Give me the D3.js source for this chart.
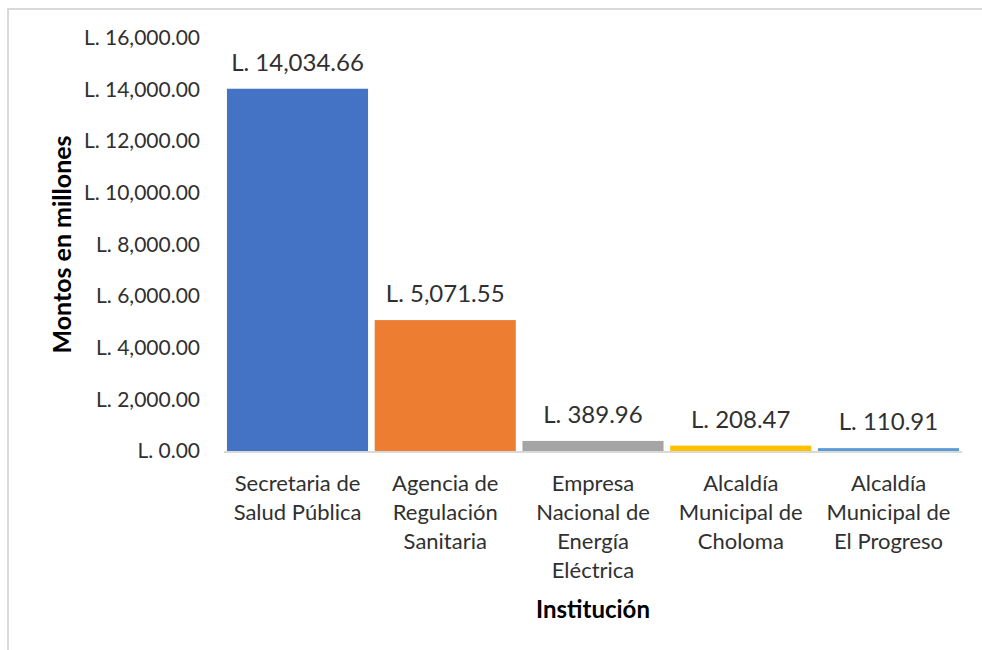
<!DOCTYPE html>
<html>
<head>
<meta charset="utf-8">
<script src="https://cdn.jsdelivr.net/npm/d3@7"></script>
<style>
  body { margin: 0; background: #fff; }
  svg text { font-family: Lato, "Open Sans", sans-serif; fill: #303030; }
</style>
</head>
<body>
<div id="chart"></div>
<script>
// data
var instituciones = [
    ["Secretaria de", "Salud Pública"],
    ["Agencia de", "Regulación", "Sanitaria"],
    ["Empresa", "Nacional de", "Energía", "Eléctrica"],
    ["Alcaldía", "Municipal de", "Choloma"],
    ["Alcaldía", "Municipal de", "El Progreso"]
];
var montos = [14034.66, 5071.55, 389.96, 208.47, 110.91];
var colores = ["#4472C4", "#ED7D31", "#A5A5A5", "#FFC000", "#5B9BD5"];
var yTicks = [0, 2000, 4000, 6000, 8000, 10000, 12000, 14000, 16000];

var svgwidth = 982, svgheight = 650;
var margin = {top: 38, right: 20, bottom: 199, left: 224};
var width = 962 - margin.left;
var height = 451 - margin.top;

var svg = d3.select("#chart")
    .append("svg")
    .attr("width", svgwidth)
    .attr("height", svgheight);

// chart frame (only top and left edges are inside the window)
svg.append("rect")
    .attr("x", 8).attr("y", 9)
    .attr("width", 1000).attr("height", 700)
    .attr("fill", "none")
    .attr("stroke", "#d9d9d9")
    .attr("stroke-width", 2);

var g = svg.append("g")
    .attr("transform", "translate(" + margin.left + "," + margin.top + ")");

var x = d3.scaleBand().domain(d3.range(montos.length)).range([0, width]).paddingInner(0.045).paddingOuter(0.02);
var y = d3.scaleLinear().domain([0, 16000]).range([height, 0]);

var fmt = function(v) { return "L. " + d3.format(",.2f")(v); };

// y axis labels, no line
var yAxisg = g.append("g")
    .call(d3.axisLeft(y).tickValues(yTicks).tickFormat(fmt).tickSize(0).tickPadding(24));
yAxisg.select(".domain").remove();
yAxisg.selectAll("text")
    .style("font-size", "21px")
    .style("font-family", "Lato, sans-serif")
    .attr("fill", "#303030");

// bars
g.selectAll(".bar")
    .data(montos)
    .enter().append("rect")
    .attr("class", "bar")
    .attr("x", function(d, i) { return x(i); })
    .attr("y", function(d) { return y(d); })
    .attr("width", x.bandwidth())
    .attr("height", function(d) { return height - y(d); })
    .attr("fill", function(d, i) { return colores[i]; });

// baseline
g.append("line")
    .attr("x1", 0).attr("x2", width)
    .attr("y1", height + 1).attr("y2", height + 1)
    .attr("stroke", "#d9d9d9")
    .attr("stroke-width", 2);

// value labels
g.selectAll(".label")
    .data(montos)
    .enter().append("text")
    .attr("class", "label")
    .attr("x", function(d, i) { return x(i) + x.bandwidth() / 2; })
    .attr("y", function(d) { return y(d) - 18; })
    .attr("text-anchor", "middle")
    .style("font-size", "24px")
    .text(fmt);

// category labels
var cats = g.selectAll(".cat")
    .data(instituciones)
    .enter().append("text")
    .attr("class", "cat")
    .attr("text-anchor", "middle")
    .style("font-size", "22px")
    .attr("transform", function(d, i) { return "translate(" + (x(i) + x.bandwidth() / 2) + "," + (height + 40) + ")"; });
cats.selectAll("tspan")
    .data(function(d) { return d; })
    .enter().append("tspan")
    .attr("x", 0)
    .attr("y", function(d, i) { return i * 29; })
    .text(function(d) { return d; });

// axis titles
g.append("text")
    .attr("x", width / 2)
    .attr("y", height + 167)
    .attr("text-anchor", "middle")
    .style("font-size", "24px")
    .style("font-weight", "bold")
    .style("fill", "#000")
    .text("Institución");

g.append("text")
    .attr("transform", "translate(" + (-153) + "," + (height / 2) + ") rotate(-90)")
    .attr("text-anchor", "middle")
    .style("font-size", "25px")
    .style("font-weight", "bold")
    .style("fill", "#000")
    .text("Montos en millones");
</script>
</body>
</html>
